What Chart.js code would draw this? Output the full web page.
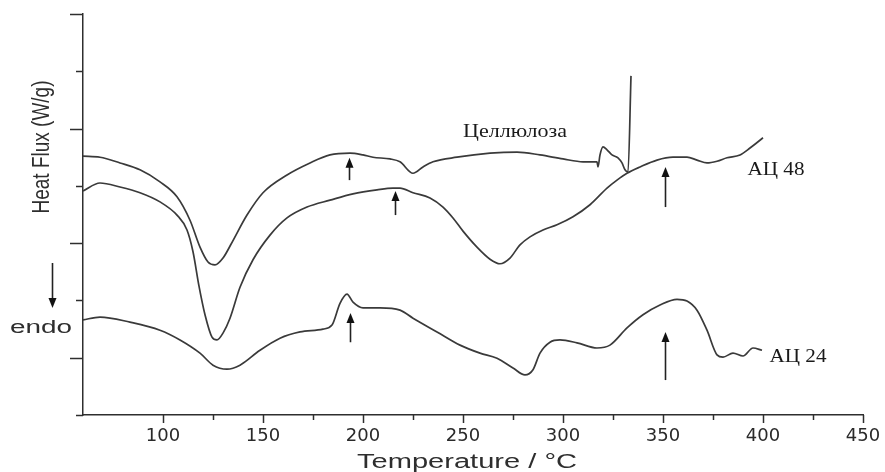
<!DOCTYPE html>
<html>
<head>
<meta charset="utf-8">
<script src="https://cdn.jsdelivr.net/npm/chart.js@4.4.1/dist/chart.umd.min.js"></script>
<style>
  html, body { margin: 0; padding: 0; background: #fff; }
  canvas { display: block; }
</style>
</head>
<body>
<canvas id="dsc" width="885" height="472"></canvas>
<script>
// ── data ─────────────────────────────────────────────
const celluloseT = [60, 68.5, 78.5, 88.5, 98.5, 107, 113.5, 118.5, 122.5, 126, 130, 134, 142, 150, 162, 173.5, 183.5, 193.5, 200, 205, 213.5, 218.5, 225, 230, 235, 247, 263.5, 277, 288.5, 300, 310, 317, 317.5, 318.5, 320, 322, 324.5, 327.5, 329.5, 331, 332.5, 334];
const celluloseV = [4.52, 4.50, 4.40, 4.28, 4.07, 3.81, 3.40, 2.93, 2.67, 2.62, 2.74, 2.98, 3.49, 3.88, 4.19, 4.40, 4.54, 4.57, 4.54, 4.50, 4.47, 4.42, 4.22, 4.33, 4.42, 4.50, 4.57, 4.59, 4.54, 4.47, 4.42, 4.42, 4.33, 4.54, 4.68, 4.63, 4.54, 4.49, 4.40, 4.28, 4.24, 5.92];

const ac48T = [60, 68.5, 78.5, 88.5, 98.5, 107, 112, 115, 118, 121, 124.5, 127, 130, 133.5, 138.5, 145, 153.5, 162, 172, 183.5, 195, 207, 215, 218.5, 225, 233.5, 240, 245, 250, 257, 263.5, 268.5, 273.5, 278.5, 283.5, 290, 297, 305, 313.5, 322, 327, 332, 338.5, 347, 355, 362, 367, 372, 377, 382, 388.5, 393.5, 400];
const ac48V = [3.91, 4.05, 3.98, 3.88, 3.72, 3.49, 3.23, 2.85, 2.25, 1.75, 1.36, 1.31, 1.43, 1.69, 2.23, 2.71, 3.14, 3.44, 3.63, 3.75, 3.86, 3.93, 3.96, 3.96, 3.88, 3.79, 3.63, 3.44, 3.21, 2.93, 2.72, 2.64, 2.74, 2.97, 3.11, 3.23, 3.32, 3.46, 3.67, 3.96, 4.10, 4.22, 4.33, 4.45, 4.50, 4.50, 4.45, 4.40, 4.43, 4.49, 4.54, 4.66, 4.84];

const ac24T = [60, 68.5, 83.5, 98.5, 108.5, 118.5, 125, 132, 138.5, 148.5, 158.5, 168.5, 180, 184.5, 188.5, 192, 195, 200, 208.5, 218.5, 225, 237, 248.5, 258.5, 267, 275, 281, 285, 288.5, 293.5, 298.5, 307, 317, 323.5, 332, 340, 348.5, 357, 362, 367, 372, 377, 380, 385, 390, 395, 399.5];
const ac24V = [1.66, 1.71, 1.62, 1.48, 1.31, 1.08, 0.87, 0.80, 0.87, 1.13, 1.34, 1.45, 1.50, 1.57, 1.95, 2.11, 1.97, 1.87, 1.87, 1.83, 1.69, 1.45, 1.22, 1.08, 0.99, 0.82, 0.70, 0.79, 1.08, 1.27, 1.31, 1.26, 1.17, 1.22, 1.52, 1.75, 1.92, 2.02, 1.99, 1.83, 1.48, 1.05, 1.01, 1.08, 1.03, 1.17, 1.13];

const xTickLabels = [100, 150, 200, 250, 300, 350, 400, 450];

// arrows: [temperature, from, to]
const arrows = [
    [193, 4.10, 4.49],
    [216, 3.49, 3.91],
    [351, 3.63, 4.33],
    [193.5, 1.27, 1.78],
    [351, 0.61, 1.45],
];
// curve names: [text, temperature (centre), baseline value]
const curveLabels = [
    ['Целлюлоза', 276, 4.85],
    ['АЦ 48', 406.5, 4.19],
    ['АЦ 24', 417.5, 0.925],
];

const INK  = '#2e2e2e';
const LINE = '#3a3a3a';

const pts = (t, v) => t.map((x, i) => ({ x, y: v[i] }));

// text stretched to a given width (the source figure is stretched sideways)
function wideText(ctx, txt, x, y, font, w) {
    ctx.font = font;
    const m = ctx.measureText(txt).width;
    ctx.save();
    ctx.translate(x, y);
    ctx.scale(w / m, 1);
    ctx.textAlign = 'center';
    ctx.textBaseline = 'alphabetic';
    ctx.fillText(txt, 0, 0);
    ctx.restore();
}

function arrow(ctx, x, y0, y1) {
    const dir = y1 < y0 ? -1 : 1;
    ctx.beginPath();
    ctx.moveTo(x, y0);
    ctx.lineTo(x, y1 - dir * 8);
    ctx.stroke();
    ctx.beginPath();
    ctx.moveTo(x, y1);
    ctx.lineTo(x - 4, y1 - dir * 10);
    ctx.lineTo(x + 4, y1 - dir * 10);
    ctx.closePath();
    ctx.fill();
}

const decor = {
    id: 'decor',
    afterDraw(chart) {
        const { ctx, scales: { x, y } } = chart;
        ctx.save();
        ctx.strokeStyle = INK;
        ctx.fillStyle = INK;
        ctx.lineWidth = 1.5;

        // tick marks, major / minor
        x.ticks.forEach(t => {
            if (t.value <= x.min) return;
            const px = Math.round(x.getPixelForValue(t.value)) + 0.5;
            const len = t.value % 50 === 0 ? 8 : 5;
            ctx.beginPath();
            ctx.moveTo(px, x.top);
            ctx.lineTo(px, x.top + len);
            ctx.stroke();
        });
        y.ticks.forEach(t => {
            const py = Math.round(y.getPixelForValue(t.value)) + 0.5;
            const len = t.value % 2 === 1 ? 13 : 7;
            ctx.beginPath();
            ctx.moveTo(y.right, py);
            ctx.lineTo(y.right - len, py);
            ctx.stroke();
        });

        // arrows on the curves
        ctx.lineWidth = 1.6;
        ctx.fillStyle = '#111';
        ctx.strokeStyle = '#222';
        arrows.forEach(([t, a, b]) => {
            arrow(ctx, Math.round(x.getPixelForValue(t)) + 0.5, y.getPixelForValue(a), y.getPixelForValue(b));
        });
        arrow(ctx, 52.5, 263, 308);

        // curve names
        ctx.fillStyle = '#1a1a1a';
        const wids = [104, 57, 57];
        curveLabels.forEach(([txt, t, v], i) => {
            wideText(ctx, txt, x.getPixelForValue(t), y.getPixelForValue(v), '19px "Liberation Serif", "Times New Roman", serif', wids[i]);
        });

        // axis titles
        ctx.fillStyle = INK;
        wideText(ctx, 'endo', 41, 333, '18px "Liberation Sans", Arial, sans-serif', 62);
        wideText(ctx, 'Temperature / °C', 467, 468, '20px "Liberation Sans", Arial, sans-serif', 220);
        ctx.save();
        ctx.translate(49, 147);
        ctx.rotate(-Math.PI / 2);
        ctx.scale(1, 1.3);
        ctx.font = '19px "Liberation Sans", Arial, sans-serif';
        ctx.textAlign = 'center';
        ctx.fillText('Heat Flux (W/g)', 0, 0);
        ctx.restore();

        ctx.restore();
    }
};

const series = [
    { label: 'Целлюлоза', data: pts(celluloseT, celluloseV) },
    { label: 'АЦ 48', data: pts(ac48T, ac48V) },
    { label: 'АЦ 24', data: pts(ac24T, ac24V) },
].map(s => ({
    ...s,
    borderColor: LINE,
    borderWidth: 1.7,
    pointRadius: 0,
    fill: false,
    cubicInterpolationMode: 'monotone',
}));

new Chart(document.getElementById('dsc'), {
    type: 'line',
    data: { datasets: series },
    options: {
        responsive: false,
        animation: false,
        layout: { padding: { top: 14, right: 22, left: 0, bottom: 0 } },
        plugins: {
            legend: { display: false },
            tooltip: { enabled: false },
        },
        scales: {
            x: {
                type: 'linear',
                min: 60,
                max: 450,
                afterFit: s => { s.height = 57; },
                grid: { drawOnChartArea: false, drawTicks: true, tickLength: 8, tickColor: 'transparent' },
                border: { display: true, color: INK, width: 1.5 },
                ticks: {
                    stepSize: 25,
                    padding: 3,
                    maxRotation: 0,
                    autoSkip: false,
                    color: '#2a2a2a',
                    font: { family: '"DejaVu Sans", sans-serif', size: 18 },
                    callback: v => xTickLabels.includes(v) ? String(v) : '',
                },
            },
            y: {
                min: 0,
                max: 7,
                afterFit: s => { s.width = 83; },
                grid: { display: false },
                border: { display: true, color: INK, width: 1.5 },
                ticks: { stepSize: 1, display: false },
            },
        },
    },
    plugins: [decor],
});
</script>
</body>
</html>
